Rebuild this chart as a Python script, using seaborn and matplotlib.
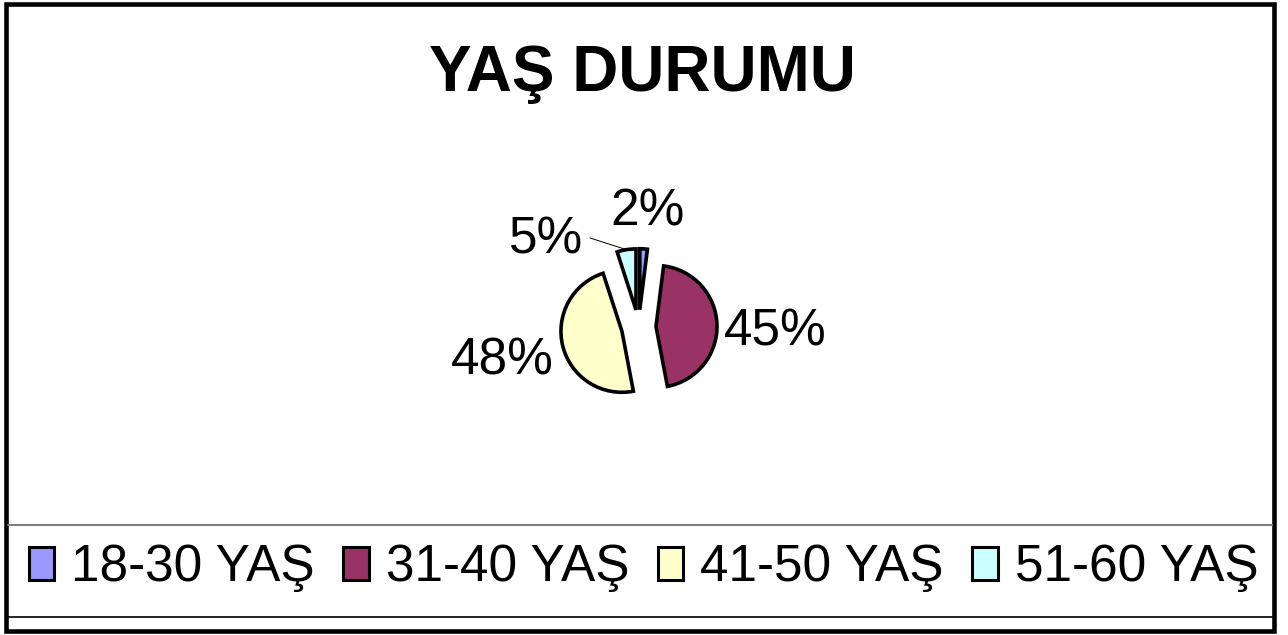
import numpy as np
import matplotlib
matplotlib.use("Agg")
import matplotlib.pyplot as plt
import seaborn as sns
from matplotlib.patches import Patch, Rectangle
from matplotlib.lines import Line2D

# Data
categories = ["18-30 YAŞ", "31-40 YAŞ", "41-50 YAŞ", "51-60 YAŞ"]
shares = [2, 45, 48, 5]
colors = sns.color_palette(["#9999FF", "#993366", "#FFFFCC", "#CCFFFF"])
title = "YAŞ DURUMU"

sns.set_theme(style="white")
plt.rcParams["font.family"] = ["Liberation Sans", "DejaVu Sans"]
plt.rcParams["text.color"] = "black"

W, H = 1288, 635
fig = plt.figure(figsize=(W / 100, H / 100), dpi=100)
fig.patch.set_facecolor("white")

ax = fig.add_axes([0, 0, 1, 1])

radius = 61
wedges, texts, autotexts = ax.pie(
    shares,
    colors=colors,
    startangle=90,
    counterclock=False,
    explode=[17.3] * len(shares),  # pie offsets are in data units here
    center=(638.7, H - 327),
    radius=radius,
    autopct="%1.0f%%",
    pctdistance=1.95,
    wedgeprops=dict(edgecolor="black", linewidth=2.6),
    textprops=dict(fontsize=37, color="black"),
    frame=True,
)
ax.set_xlim(0, W)
ax.set_ylim(0, H)
ax.set_aspect("equal")
ax.axis("off")

# move the small 51-60 label aside with a leader line (as in the original)
w = wedges[3]
mid = np.deg2rad((w.theta1 + w.theta2) / 2)
cx, cy = w.center
lab = mid + np.deg2rad(42)
autotexts[3].set_position((cx + 1.9 * radius * np.cos(lab), cy + 1.9 * radius * np.sin(lab) - 3))
start = mid + np.deg2rad(23.6)
ax.plot([cx + 1.4 * radius * np.cos(start), cx + radius * np.cos(mid)],
        [cy + 1.4 * radius * np.sin(start), cy + radius * np.sin(mid)],
        color="black", lw=0.7)
x0, y0 = autotexts[0].get_position()
autotexts[0].set_position((x0, y0 - 0.3 * radius - 3))
x1, y1 = autotexts[1].get_position()
autotexts[1].set_position((x1, y1 - 9))
x2, y2 = autotexts[2].get_position()
autotexts[2].set_position((x2 - 4, y2))

# title
ax.text(642, H - 74, title, ha="center", va="center", fontsize=46, fontweight="bold")

# chart frame and legend separators
ax.add_patch(Rectangle((6, H - 631), 1268, 627, fill=False, edgecolor="black", lw=3.3))
ax.add_line(Line2D([8, 1272], [H - 525, H - 525], color="#808080", lw=1.5))
ax.add_line(Line2D([8, 1272], [H - 617, H - 617], color="black", lw=1.2))

handles = [Patch(facecolor=c, edgecolor="black", linewidth=2.2) for c in colors]
fig.legend(handles, categories, loc="center", bbox_to_anchor=(643.5 / W, 1 - 568 / H),
           ncol=4, frameon=False, fontsize=37, handlelength=0.5, handleheight=0.6,
           handletextpad=0.33, columnspacing=0.55, borderaxespad=0)

fig.savefig("out.png", dpi=100)
